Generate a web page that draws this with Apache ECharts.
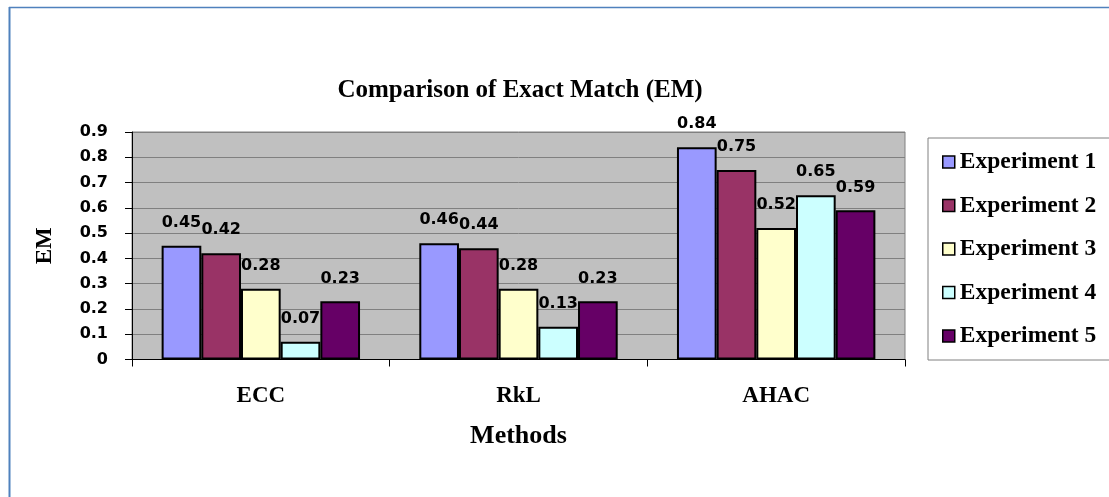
<!DOCTYPE html>
<html>
<head>
<meta charset="utf-8">
<script src="https://cdn.jsdelivr.net/npm/echarts@6/dist/echarts.min.js"></script>
<style>
html,body{margin:0;padding:0;background:#fff;}
#chart{width:1109px;height:497px;}
</style>
</head>
<body>
<div id="chart"></div>
<script>
const categories = ['ECC', 'RkL', 'AHAC'];
const seriesNames = ['Experiment 1', 'Experiment 2', 'Experiment 3', 'Experiment 4', 'Experiment 5'];
const exp1 = [0.45, 0.46, 0.84];
const exp2 = [0.42, 0.44, 0.75];
const exp3 = [0.28, 0.28, 0.52];
const exp4 = [0.07, 0.13, 0.65];
const exp5 = [0.23, 0.23, 0.59];
const colors = ['#9999FF', '#993366', '#FFFFCC', '#CCFFFF', '#660066'];
const seriesValues = [exp1, exp2, exp3, exp4, exp5];

const serif = 'Liberation Serif';
const sans = 'DejaVu Sans';

const chart = echarts.init(document.getElementById('chart'));
chart.setOption({
  animation: false,
  backgroundColor: '#ffffff',
  title: {
    text: 'Comparison of Exact Match (EM)',
    left: 515,
    top: 73,
    textAlign: 'center',
    textStyle: { fontFamily: serif, fontWeight: 'bold', fontSize: 25, color: '#000' }
  },
  graphic: [
    { type: 'line', shape: { x1: 9.5, y1: 7, x2: 9.5, y2: 497 }, style: { stroke: '#4F81BD', lineWidth: 2 } },
    { type: 'line', shape: { x1: 9, y1: 7.5, x2: 1109, y2: 7.5 }, style: { stroke: '#4F81BD', lineWidth: 1.5 } }
  ],
  legend: {
    orient: 'vertical',
    left: 928,
    top: 138,
    padding: [12, 60, 12, 14],
    itemWidth: 12,
    itemHeight: 12,
    itemGap: 19.5,
    icon: 'rect',
    backgroundColor: '#ffffff',
    borderColor: '#808080',
    borderWidth: 1,
    itemStyle: { borderColor: '#000', borderWidth: 1.5 },
    textStyle: { fontFamily: serif, fontWeight: 'bold', fontSize: 23.5, color: '#000' },
    data: seriesNames
  },
  grid: {
    left: 132, right: 204, top: 132, bottom: 137.5,
    show: true,
    backgroundColor: '#C0C0C0',
    borderColor: '#808080',
    borderWidth: 1
  },
  xAxis: {
    type: 'category',
    data: categories,
    name: 'Methods',
    nameLocation: 'middle',
    nameGap: 64,
    nameTextStyle: { fontFamily: serif, fontWeight: 'bold', fontSize: 26, color: '#000' },
    axisLine: { lineStyle: { color: '#000', width: 1 } },
    axisTick: { show: true, length: 7, lineStyle: { color: '#000' } },
    axisLabel: { margin: 25, fontFamily: serif, fontWeight: 'bold', fontSize: 23, color: '#000' },
    splitLine: { show: false }
  },
  yAxis: {
    type: 'value',
    min: 0, max: 0.9, interval: 0.1,
    name: 'EM',
    nameLocation: 'middle',
    nameRotate: 90,
    nameGap: 75,
    nameTextStyle: { fontFamily: serif, fontWeight: 'bold', fontSize: 23, color: '#000' },
    axisLine: { show: true, lineStyle: { color: '#000', width: 1 } },
    axisTick: { show: true, length: 7, lineStyle: { color: '#000' } },
    axisLabel: { margin: 24, fontFamily: sans, fontWeight: 'bold', fontSize: 16, color: '#000' },
    splitLine: { show: true, lineStyle: { color: '#808080', width: 1 } }
  },
  series: seriesNames.map((name, i) => ({
    name: name,
    type: 'bar',
    data: seriesValues[i],
    barGap: '0%',
    barCategoryGap: '23%',
    itemStyle: { color: colors[i], borderColor: '#000', borderWidth: 2 },
    label: {
      show: true,
      position: 'top',
      distance: 15,
      fontFamily: sans,
      fontWeight: 'bold',
      fontSize: 16,
      color: '#000'
    }
  }))
});
</script>
</body>
</html>
